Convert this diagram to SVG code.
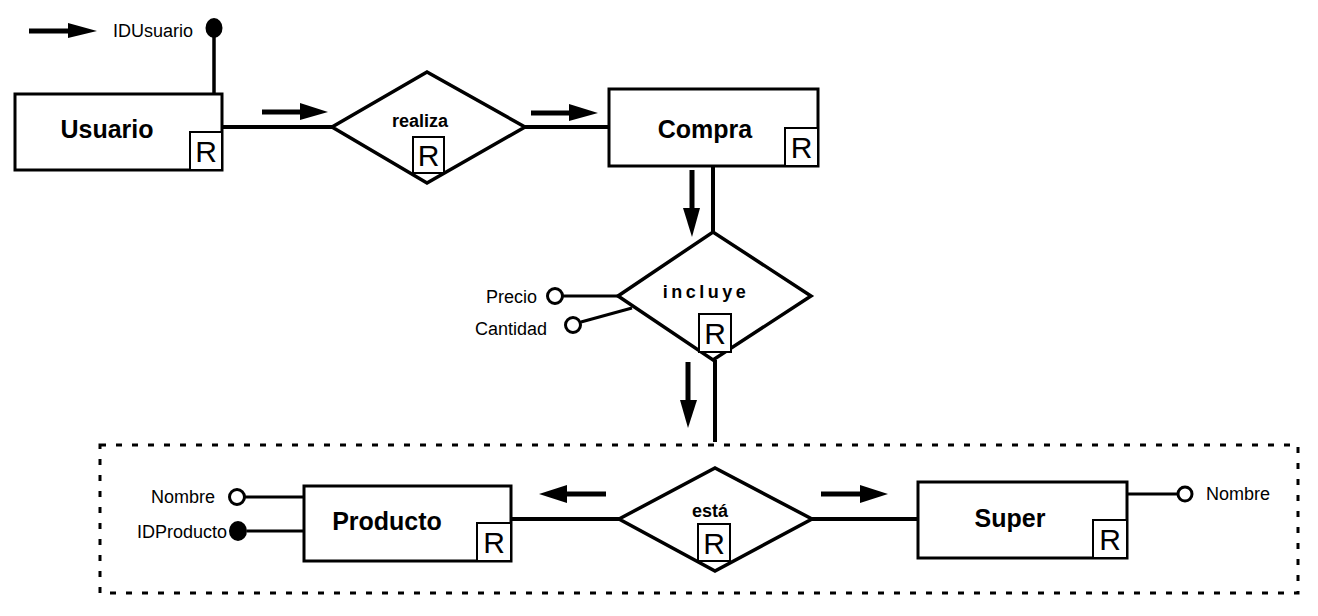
<svg xmlns="http://www.w3.org/2000/svg" width="1318" height="616" viewBox="0 0 1318 616">
<style>
.ent{fill:#fff;stroke:#000;stroke-width:3}
.rel{fill:#fff;stroke:#000;stroke-width:3.5;stroke-linejoin:miter}
.rbox{fill:#fff;stroke:#000;stroke-width:2}
.rt{font-family:"Liberation Sans",Arial,sans-serif;font-size:30px;text-anchor:middle;fill:#000}
.en{font-family:"Liberation Sans",Arial,sans-serif;font-size:25px;font-weight:bold;text-anchor:middle;fill:#000}
.rn{font-family:"Liberation Sans",Arial,sans-serif;font-size:18px;font-weight:bold;text-anchor:middle;fill:#000}
.at{font-family:"Liberation Sans",Arial,sans-serif;font-size:18px;fill:#000}
.ln{stroke:#000;stroke-width:4;fill:none}
.al{stroke:#000;stroke-width:3;fill:none}
.sh{stroke:#000;stroke-width:5;fill:none}
.hd{fill:#000;stroke:none}
.oc{fill:#fff;stroke:#000;stroke-width:3}
.fc{fill:#000;stroke:none}
</style>
<g id="aggregation">
<rect x="100" y="445" width="1198" height="148" fill="none" stroke="#000" stroke-width="3" stroke-dasharray="6 10"/>
</g>
<g id="connectors">
<line class="ln" x1="222" y1="127" x2="332" y2="127"/>
<line class="ln" x1="525" y1="127" x2="610" y2="127"/>
<line class="ln" x1="713" y1="166" x2="713" y2="232"/>
<line class="ln" x1="715" y1="360" x2="715" y2="442"/>
<line class="ln" x1="511" y1="519" x2="619" y2="519"/>
<line class="ln" x1="812" y1="519" x2="918" y2="519"/>
<line class="ln" x1="214" y1="28" x2="214" y2="94" style="stroke-width:3.5"/>
<line class="al" x1="563" y1="296" x2="618" y2="296"/>
<line class="al" x1="581" y1="322" x2="632" y2="308"/>
<line class="al" x1="245" y1="497" x2="304" y2="497"/>
<line class="al" x1="247" y1="531" x2="304" y2="531"/>
<line class="al" x1="1127" y1="494" x2="1178" y2="494"/>
<!-- direction arrows -->
<line class="sh" x1="29" y1="31" x2="70" y2="31"/>
<polygon class="hd" points="68,23 97,31 68,38"/>
<line class="sh" x1="262" y1="112" x2="302" y2="112"/>
<polygon class="hd" points="300,103 328,112 300,120"/>
<line class="sh" x1="531" y1="113" x2="571" y2="113"/>
<polygon class="hd" points="569,104 598,113 569,121"/>
<line class="sh" x1="692" y1="170" x2="692" y2="210"/>
<polygon class="hd" points="683,208 692,237 700,208"/>
<line class="sh" x1="688" y1="362" x2="688" y2="402"/>
<polygon class="hd" points="680,400 688,428 697,400"/>
<line class="sh" x1="606" y1="494" x2="565" y2="494"/>
<polygon class="hd" points="567,485 539,494 567,503"/>
<line class="sh" x1="821" y1="494" x2="862" y2="494"/>
<polygon class="hd" points="860,485 888,494 860,503"/>
</g>
<g id="legend">
<text class="at" x="113" y="37">IDUsuario</text>
<ellipse class="fc" cx="214" cy="28" rx="8.5" ry="10"/>
</g>
<g id="usuario">
<rect class="ent" x="15" y="94" width="207" height="76"/>
<text class="en" x="107" y="138">Usuario</text>
<rect class="rbox" x="190" y="132" width="32" height="38"/>
<text class="rt" x="206" y="162">R</text>
</g>
<g id="realiza">
<polygon class="rel" points="332,127 427,72 525,127 427,183"/>
<text class="rn" x="420" y="127">realiza</text>
<rect class="rbox" x="413" y="137" width="31" height="36"/>
<text class="rt" x="428.5" y="166">R</text>
</g>
<g id="compra">
<rect class="ent" x="609" y="89" width="209" height="77"/>
<text class="en" x="705" y="138">Compra</text>
<rect class="rbox" x="785" y="128" width="33" height="38"/>
<text class="rt" x="801.5" y="158">R</text>
</g>
<g id="incluye">
<polygon class="rel" points="618,296 713,232 811,296 713,360"/>
<text class="rn" x="706" y="298" style="letter-spacing:3.5px">incluye</text>
<rect class="rbox" x="699" y="314" width="32" height="38"/>
<text class="rt" x="715" y="344">R</text>
</g>
<g id="precio">
<circle class="oc" cx="555" cy="296" r="7.5"/>
<text class="at" x="537" y="303" text-anchor="end">Precio</text>
</g>
<g id="cantidad">
<circle class="oc" cx="573" cy="325" r="7.5"/>
<text class="at" x="547" y="335" text-anchor="end">Cantidad</text>
</g>
<g id="producto">
<rect class="ent" x="304" y="486" width="207" height="75"/>
<text class="en" x="387" y="530">Producto</text>
<rect class="rbox" x="477" y="523" width="34" height="38"/>
<text class="rt" x="494" y="553">R</text>
</g>
<g id="producto-nombre">
<circle class="oc" cx="237" cy="497" r="7.5"/>
<text class="at" x="215" y="503" text-anchor="end">Nombre</text>
</g>
<g id="producto-id">
<ellipse class="fc" cx="238" cy="531" rx="9" ry="10"/>
<text class="at" x="227" y="538" text-anchor="end">IDProducto</text>
</g>
<g id="esta">
<polygon class="rel" points="619,519 715,468 812,519 715,571"/>
<text class="rn" x="710" y="517">está</text>
<rect class="rbox" x="698" y="524" width="32" height="37"/>
<text class="rt" x="714" y="554">R</text>
</g>
<g id="super">
<rect class="ent" x="918" y="482" width="209" height="76"/>
<text class="en" x="1010" y="527">Super</text>
<rect class="rbox" x="1093" y="520" width="34" height="38"/>
<text class="rt" x="1110" y="550">R</text>
</g>
<g id="super-nombre">
<circle class="oc" cx="1185" cy="494" r="7"/>
<text class="at" x="1206" y="500">Nombre</text>
</g>
</svg>
